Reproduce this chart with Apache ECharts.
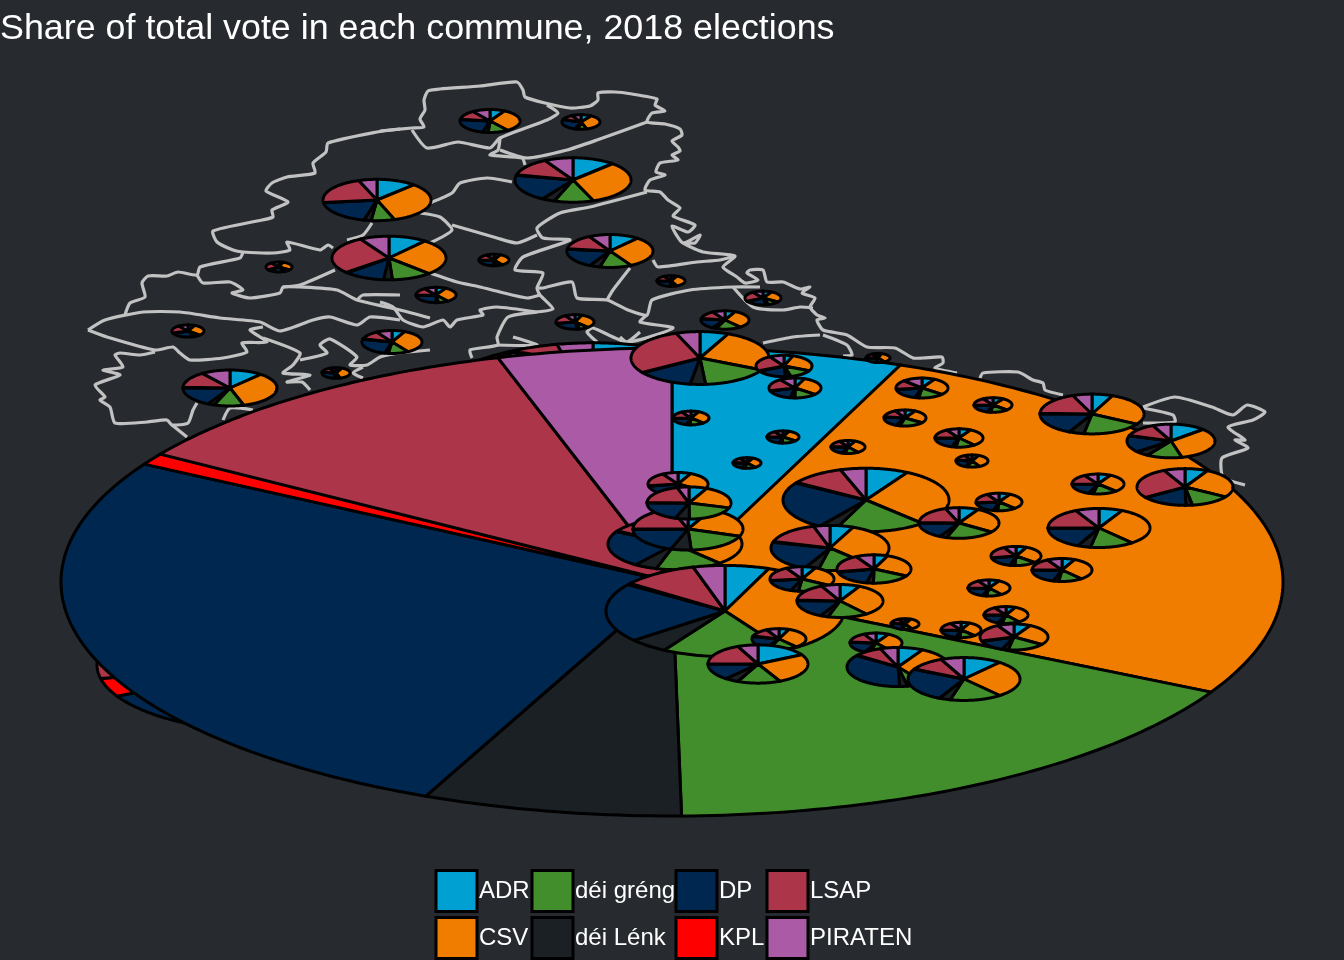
<!DOCTYPE html>
<html><head><meta charset="utf-8">
<style>html,body{margin:0;padding:0;background:#272b30}#c{width:1344px;height:960px}</style>
<script src="https://cdn.jsdelivr.net/npm/echarts@6/dist/echarts.min.js"></script>
</head><body><div id="c"></div>
<script>
var parties = ['ADR','CSV','déi gréng','déi Lénk','DP','KPL','LSAP','PIRATEN'];
var partyColors = ['#00a0d2','#f07d00','#438e2c','#1a2023','#00274f','#ff0000','#ad354a','#ab5ba6'];
var communeX = [272,593,518,672,490,581,573,377,389,279, 494,610,671,436,188,392,230,336,575,763, 725,878,700,784,795,691,783,922,905,993, 959,972,1092,1171,1098,1185,1099,999,866,959, 830,874,802,840,1016,1062,989,1006,1014,961, 905,876,898,964,747,848,675,688,678,689, 725,779,758];
var communeY = [665,406,361,582,121,122,180,200,258,267, 260,251,281,295,331,342,388,373,322,298, 320,358,358,366,388,418,437,388,418,405, 438,461,414,441,484,487,528,502,500,523, 548,569,579,601,556,570,588,615,637,630, 624,643,667,679,463,447,544,529,484,503, 611,639,664];
var communeSize = [175,165,22,611,30,19,58,54,57,13, 15,43,14,20,16,30,47,14,19,18, 24,12,69,28,26,18,16,26,21,19, 24,16,52,44,26,48,51,23,83,40, 59,37,32,43,25,30,21,22,34,20, 14,26,51,56,14,17,67,55,30,42, 119,27,50];
var shareADR = [5,8,7,6.1,8,9,12,12,10.8,5, 7,11,7,8,7,7,11.4,7,6,8, 7,5,6.7,5,6,7,6,8,8,9, 8,7,6.5,13,8,7.8,7.5,8,8.3,8, 6.5,6,7,7.5,7,7,8,7,8,7, 7,8,8,11,7,7,6,7,7,7, 6,6,17];
var shareCSV = [25,28,30,26.7,32,36,32.5,33,26.7,30, 34,31,36,32,30,34,34,38,32,27, 32,36,25.8,26,30,31,30,28,27,28, 31,35,27,33,30,26.4,31.4,30,30,27, 32,27,27,32,30,32,32,33,27,31, 35,32,33,28,33,33,32.5,23.5,28,23, 35.5,33,25.8];
var shareGreng = [8,13,12,16.95,11,7,11,7,11.4,6, 7,12,6,8,5,11,10.3,6,8,10, 17,10,16.2,13,14,13,15,16,19,15, 13,13,19,13,15,13.6,13.9,13,18,20, 15,17,18,15,14,13,12,13,18,13, 11,14,6,15,13,13,16,18.5,14,20, 17,17,13.9];
var shareLenk = [2,3,3,6.85,3,3,3.6,2.2,2.5,2, 3,4,2,2,2,2,2.3,2,2,2, 3,2,3.6,3,3,3,3,2.5,3,3, 3,2,4.7,5,3,2.2,4.2,3,3.4,3, 4,3,4,3,3,3,3,3,3,3, 2,3,2.5,3.3,3,3,5.5,6,3,5.5, 5.3,2,4.4];
var shareDP = [27.3,22,22,26.8,23,25,19.7,19,11.5,22, 22,19,24,24,25,25,17.5,24,24,20, 18,22,13.3,17,17,20,21,18,20,19, 20,20,18,16,18,15.6,18,19,24.6,17, 22,18,17,18,18,20,19,19,14,20, 22,19,35.5,25.3,20,20,23,19.5,20,20, 21,21,13.9];
var shareKPL = [4.5,.5,1,.8,.5,.5,.4,.3,.5,1, 1,.3,.5,.5,1,.5,.3,.5,.5,.5, .5,1,.2,.5,.5,.5,.5,.5,.5,.5, .5,.5,.3,.3,.5,.2,.3,.5,.3,.5, .5,.5,.5,.5,.5,.5,.5,.5,.5,.5, .5,.5,.4,.3,.5,.5,.5,.4,.5,.3, .5,.5,.2];
var shareLSAP = [20,22,17,11.2,13,11,13.3,21.5,28,24, 18,15,16,16,20,12,14.5,15,19,23, 14,16,28.6,23,20,17,16,15,15,17, 16,15,18.5,13,17,27.6,17.5,18,10.8,19, 16,20,19,17,20,17,17,16,22,17, 15,16,9,10.5,16,16,12,20,19,20, 10.3,13,18.3];
var sharePIRATEN = [8.2,3.5,8,4.6,9.5,8,8,5.5,8.3,10, 8,8,8,9.5,10,8.5,10,7.5,8.5,9.5, 8.5,8,5.6,8,9.5,8.5,8.5,12,7.5,8.5, 8.5,7.5,6,6.7,8.5,7.2,7.5,8.5,5,5.5, 4.5,8,8,7,8,8,8.5,8.5,8,8.5, 7.5,7.5,5.6,6.7,8,8,4.5,5,8.5,4.5, 4.3,7.5,6.6];
var tilt = 0.383;
var drawOrder = [0,1,2,3,56,57,58,59,60,4,5,6,7,8,9,10,11,12,13,14,15,16,17,18,19,20,21,22,23,24,25,26,27,28,29,30,31,32,33,34,35,36,37,38,39,40,41,42,43,44,45,46,47,48,49,50,51,52,53,54,55,61,62];

var borderNorth = [[380,131],[412,128],[424,127],[420,119],[425,110],[424,100],[428,91],[440,89],[480,86],[517,82],[523,90],[525,97],[545,103],[570,108],[590,106],[598,100],[598,93],[615,92],[632,94],[657,99],[655,105],[665,111],[652,113],[647,122],[665,124],[680,129],[682,135],[672,141],[678,147],[680,151],[672,155],[678,160],[660,163],[656,172],[665,175],[650,180],[645,190],[660,192],[668,200],[680,208],[673,216],[695,225],[688,232],[672,226],[683,243],[700,235],[695,243],[683,243],[703,252],[735,256],[723,267],[737,277],[745,283],[758,280],[747,273],[750,270],[763,270],[767,282],[783,282],[800,289],[810,287],[802,293],[815,298],[810,307],[817,315],[825,318],[817,320],[823,330],[847,335],[867,347],[895,348],[913,358],[923,358],[942,357],[943,363],[935,368],[957,373]];
var borderEast1 = [[980,378],[983,373],[1018,372],[1033,380],[1043,383],[1045,390],[1063,395]];
var borderEast2 = [[1143,407],[1175,397],[1212,407],[1233,415],[1247,405],[1265,412],[1253,420],[1228,427],[1245,440],[1235,440],[1248,448],[1222,458],[1223,477],[1245,485]];
var borderEast3 = [[1143,408],[1173,415],[1175,422],[1143,423]];
var borderNorthInner = [[412,130],[427,148],[458,142],[490,148],[500,138],[547,120],[558,113],[547,105]];
var borderNorthInner2 = [[500,138],[498,150],[490,155],[522,158],[525,165]];
var borderNorthInner3 = [[500,150],[527,158],[567,150],[597,140],[647,122]];
var borderCentre1 = [[430,203],[452,193],[460,183],[487,178],[512,182]];
var borderCentre2 = [[647,192],[590,207],[560,213],[537,228],[543,238],[570,240],[523,257],[515,270],[543,273],[537,288],[540,295],[553,309],[537,312],[508,317],[497,337],[498,345],[470,350],[472,358]];
var borderCentre3 = [[420,213],[440,217],[452,230],[430,243]];
var borderCentre4 = [[452,225],[497,238],[517,243],[537,235]];
var borderCentre5 = [[630,268],[613,290],[607,300]];
var borderCentre6 = [[653,260],[658,267],[697,262],[720,260],[735,256]];
var borderCentre7 = [[430,273],[457,282],[480,287],[500,292],[527,298],[540,295]];
var borderCentre8 = [[537,312],[497,307],[480,310],[483,315],[457,320],[450,327],[443,320],[423,327],[403,320],[393,307],[380,302]];
var borderCentre9 = [[537,288],[543,288],[572,282],[577,298],[607,300],[628,310],[647,315],[652,300],[690,290],[733,287],[760,287]];
var borderCentre10 = [[733,287],[753,307],[783,310],[800,307],[813,308]];
var borderCentre11 = [[647,315],[640,322],[673,328],[627,342],[593,328],[587,332],[597,342]];
var borderCentre12 = [[823,335],[847,345],[852,355],[843,356]];
var borderCentre13 = [[763,343],[793,337],[820,335]];
var borderCentre14 = [[620,337],[627,342],[640,332]];
var borderCentre15 = [[513,337],[537,345],[497,345]];
var borderWest1 = [[400,129],[377,132],[328,143],[326,152],[313,163],[315,173],[287,177],[272,183],[266,191],[288,202],[272,210],[273,217],[262,220],[213,231],[217,242],[233,250],[243,252],[273,253],[290,250],[287,242],[320,250],[328,245],[333,248]];
var borderWest2 = [[243,252],[240,258],[200,267],[197,275],[178,272],[167,276],[148,276],[142,283],[145,297],[130,303],[125,315]];
var borderWest3 = [[197,275],[203,283],[230,282],[243,290],[232,293],[250,298],[280,293],[283,287],[300,287],[337,290],[357,300],[400,310],[430,318]];
var borderWest4 = [[357,300],[363,295],[400,295]];
var borderWest5 = [[372,223],[363,235],[347,240]];
var borderWest6 = [[335,270],[300,285],[283,287]];
var borderWest7 = [[88,330],[105,320],[143,312],[180,312],[220,318],[260,322],[280,331],[313,320],[330,317],[357,325],[370,317],[400,320]];
var borderWest8 = [[88,330],[107,337],[155,350],[173,347],[180,353],[190,360],[223,358],[247,352],[242,343],[267,342],[250,330],[263,327]];
var borderWest9 = [[263,338],[300,353],[293,365],[283,373],[310,375],[287,382],[302,382],[310,390]];
var borderWest10 = [[300,360],[327,353],[320,345],[330,339],[357,357],[350,365],[367,365],[380,357],[400,353],[430,350]];
var borderWest11 = [[363,367],[353,373],[363,378]];
var borderWest12 = [[155,352],[140,355],[120,353],[115,355],[123,367],[103,370],[120,375],[95,385],[105,397],[100,400],[110,407],[115,423],[147,422],[167,420],[172,425],[188,423],[193,410],[197,403]];
var borderWest13 = [[172,425],[187,437]];
var borderWest14 = [[223,420],[230,408],[253,410]];
var borderLines = [borderNorth,borderEast1,borderEast2,borderEast3,borderNorthInner,borderNorthInner2,borderNorthInner3,borderCentre1,borderCentre2,borderCentre3,borderCentre4,borderCentre5,borderCentre6,borderCentre7,borderCentre8,borderCentre9,borderCentre10,borderCentre11,borderCentre12,borderCentre13,borderCentre14,borderCentre15,borderWest1,borderWest2,borderWest3,borderWest4,borderWest5,borderWest6,borderWest7,borderWest8,borderWest9,borderWest10,borderWest11,borderWest12,borderWest13,borderWest14];

var shareColumns = [shareADR,shareCSV,shareGreng,shareLenk,shareDP,shareKPL,shareLSAP,sharePIRATEN];
var pieRows = drawOrder.map(function(i){
  return [communeX[i],communeY[i],communeSize[i]].concat(shareColumns.map(function(c){return c[i];}));
});

function renderPie(params, api){
  var x=api.value(0), y=api.value(1), r=api.value(2), vals=[], total=0, k;
  for(k=0;k<8;k++){vals.push(api.value(3+k)); total+=vals[k];}
  var children=[], a=0;
  for(k=0;k<8;k++){
    var sweep=vals[k]/total*360, pts=[api.coord([x,y])];
    var steps=Math.max(2,Math.ceil(sweep));
    for(var s=0;s<=steps;s++){
      var t=(a+sweep*s/steps)*Math.PI/180;
      pts.push(api.coord([x+r*Math.sin(t), y-tilt*r*Math.cos(t)]));
    }
    children.push({type:'polygon',shape:{points:pts},
      style:{fill:partyColors[k],stroke:'#000',lineWidth:3,lineJoin:'round'}});
    a+=sweep;
  }
  return {type:'group',children:children};
}
function renderBorder(params, api){
  var line=borderLines[api.value(0)];
  return {type:'polyline',shape:{points:line.map(function(p){return api.coord(p);}),smooth:0.2},
    style:{fill:null,stroke:'#c2c2c2',lineWidth:3.2,lineJoin:'round'}};
}
var chart=echarts.init(document.getElementById('c'),null,{renderer:'canvas'});
function legendCol(names,left){
  return {show:true,orient:'vertical',left:left,top:869,height:120,itemWidth:41,itemHeight:41,itemGap:3,icon:'rect',
    selectedMode:false,padding:0,data:names,
    itemStyle:{borderColor:'#000',borderWidth:3},
    textStyle:{color:'#fff',fontSize:24,fontFamily:'"Liberation Sans",Arial,sans-serif',padding:[0,0,0,-3]}};
}
var legendSeries=parties.map(function(n,i){
  return {type:'bar',name:n,data:[],itemStyle:{color:partyColors[i]}};
});
chart.setOption({
  animation:false,
  backgroundColor:'#272b30',
  title:{text:'Share of total vote in each commune, 2018 elections',left:0,top:11,padding:0,
    textStyle:{color:'#fff',fontSize:35.85,fontWeight:'normal',fontFamily:'"Liberation Sans",Arial,sans-serif'}},
  grid:{left:0,right:0,top:0,bottom:0},
  xAxis:{type:'value',min:0,max:1344,show:false},
  yAxis:{type:'value',min:0,max:960,inverse:true,show:false},
  legend:[legendCol(['ADR','CSV'],434.5),legendCol(['déi gréng','déi Lénk'],530.5),legendCol(['DP','KPL'],674.5),legendCol(['LSAP','PIRATEN'],765.5)],
  series:[
    {type:'custom',silent:true,clip:false,z:1,renderItem:renderBorder,data:borderLines.map(function(l,i){return [i];}),encode:{x:[],y:[]}},
    {type:'custom',silent:true,clip:false,z:2,renderItem:renderPie,data:pieRows,encode:{x:0,y:1}}
  ].concat(legendSeries)
});
</script></body></html>
